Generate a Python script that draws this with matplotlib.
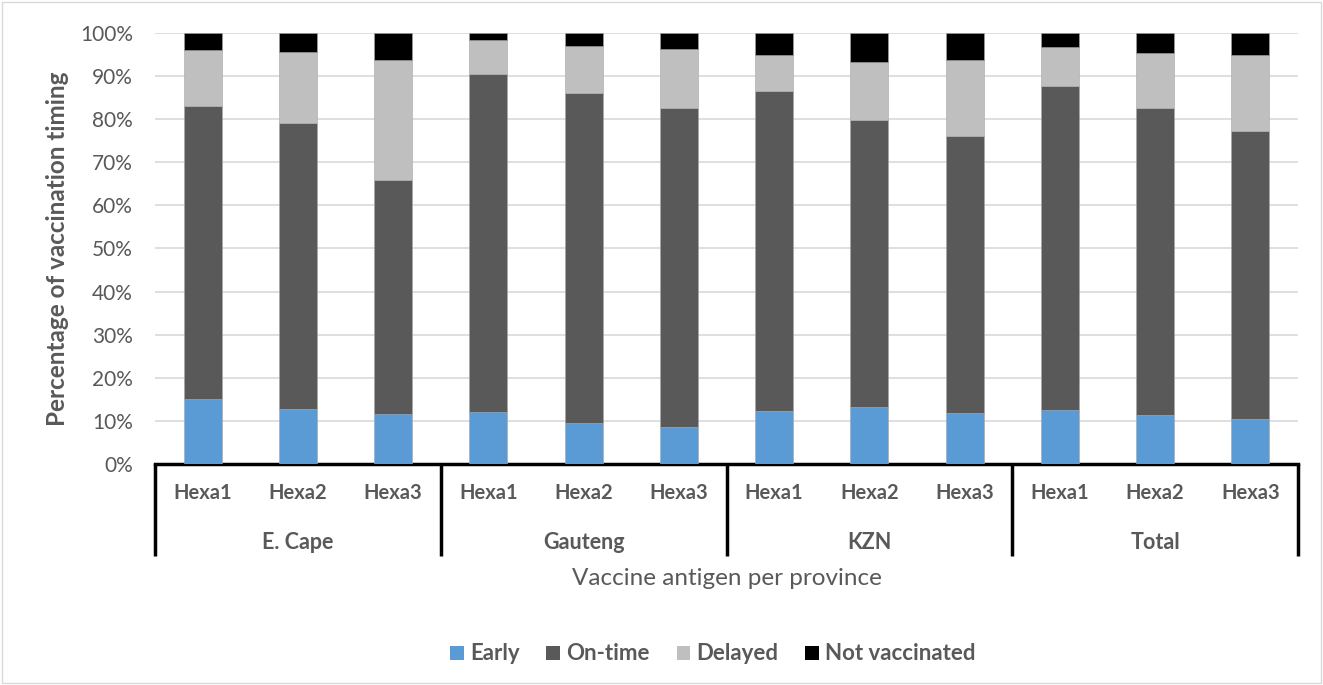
import matplotlib
matplotlib.use("Agg")
import matplotlib.pyplot as plt
from matplotlib.patches import Patch, Rectangle
from matplotlib.transforms import blended_transform_factory
import numpy as np

plt.rcParams['font.family'] = ['Lato', 'DejaVu Sans']

provinces = ["E. Cape", "Gauteng", "KZN", "Total"]
antigens = ["Hexa1", "Hexa2", "Hexa3"]

early = [15.0, 12.7, 11.6, 12.1, 9.6, 8.6, 12.3, 13.2, 11.9, 12.6, 11.4, 10.4]
on_time = [68.0, 66.5, 54.4, 78.4, 76.5, 74.0, 74.2, 66.7, 64.2, 75.0, 71.1, 66.9]
delayed = [13.0, 16.3, 27.7, 7.9, 10.9, 13.6, 8.3, 13.3, 17.6, 9.1, 12.8, 17.6]
not_vacc = [4.0, 4.5, 6.3, 1.6, 3.0, 3.8, 5.2, 6.8, 6.3, 3.3, 4.7, 5.1]

series = [("Early", early, "#5b9bd5"),
          ("On-time", on_time, "#595959"),
          ("Delayed", delayed, "#bfbfbf"),
          ("Not vaccinated", not_vacc, "#000000")]

W, H = 1323, 685
fig = plt.figure(figsize=(W / 100, H / 100), dpi=100)
fig.patches.append(Rectangle((2 / W, 2 / H), 1 - 4 / W, 1 - 4 / H, transform=fig.transFigure,
                             fill=False, edgecolor="#d9d9d9", linewidth=1))
ax = fig.add_axes([155 / W, (H - 464) / H, 1143 / W, 431 / H])

x = np.arange(len(early))
bottom = np.zeros(len(x))
for name, vals, col in series:
    v = np.array(vals)
    ax.bar(x, v, width=0.4, bottom=bottom, color=col, edgecolor="#a6a6a6", linewidth=0.4, zorder=3)
    bottom += v

ax.set_xlim(-0.5, len(x) - 0.5)
ax.set_ylim(0, 100)
ax.set_yticks(np.arange(0, 101, 10))
ax.set_yticklabels([f"{t}%" for t in range(0, 101, 10)], fontsize=15, color="#595959")
ax.yaxis.grid(True, color="#d9d9d9", linewidth=1.2, zorder=0)
ax.tick_params(axis="y", length=0, pad=16)
ax.set_xticks([])
for s in ["left", "right", "top"]:
    ax.spines[s].set_visible(False)
ax.spines["bottom"].set_linewidth(2.5)
ax.spines["bottom"].set_color("black")

trans = blended_transform_factory(ax.transData, ax.transAxes)
for i, lab in enumerate(antigens * len(provinces)):
    ax.text(i, -0.067, lab, transform=trans, ha="center", va="center",
            fontsize=14.5, fontweight="bold", color="#595959")
for g, prov in enumerate(provinces):
    ax.text(3 * g + 1, -0.181, prov, transform=trans, ha="center", va="center",
            fontsize=15.5, fontweight="bold", color="#595959")
for g in range(len(provinces) + 1):
    ax.plot([3 * g - 0.5, 3 * g - 0.5], [0, -0.213], transform=trans, color="black",
            linewidth=2.5, clip_on=False, solid_capstyle="butt")

ax.text(0.5, -0.265, "Vaccine antigen per province", transform=ax.transAxes,
        ha="center", va="center", fontsize=17.5, color="#595959")
ax.text(58 / W, 1 - 249 / H, "Percentage of vaccination timing", transform=fig.transFigure,
        rotation=90, ha="center", va="center", fontsize=17.5, fontweight="bold",
        color="#595959")

handles = [Patch(facecolor=c, edgecolor="none", label=n) for n, _, c in series]
leg = fig.legend(handles=handles, loc="center", bbox_to_anchor=(713 / W, 1 - 654 / H),
                 ncol=4, frameon=False, handlelength=0.6, handleheight=0.6,
                 handletextpad=0.3, columnspacing=1.2,
                 prop={"size": 16, "weight": "bold"})
for t in leg.get_texts():
    t.set_color("#595959")

fig.savefig("out.png", dpi=100)
